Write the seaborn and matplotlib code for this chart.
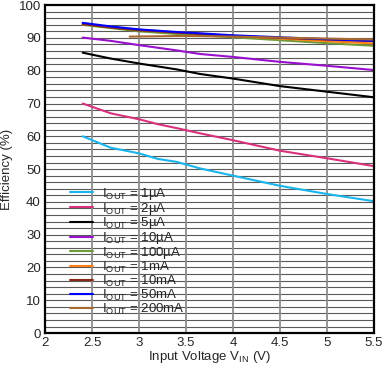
import numpy as np
import pandas as pd
import matplotlib
matplotlib.use('Agg')
import matplotlib.pyplot as plt
import seaborn as sns

# Efficiency vs input voltage, one curve per output current
vin = [2.4, 2.7, 3.0, 3.2, 3.4, 3.65, 4.0, 4.5, 5.0, 5.5]
eff_1uA = [60.0, 56.5, 54.8, 53.1, 52.2, 50.2, 48.0, 44.9, 42.4, 40.2]
eff_2uA = [70.0, 67.0, 65.2, 63.7, 62.5, 60.9, 58.8, 55.6, 53.3, 50.9]
eff_5uA = [85.5, 83.7, 82.2, 81.3, 80.4, 79.0, 77.6, 75.3, 73.6, 71.9]
eff_10uA = [90.1, 89.1, 87.8, 87.0, 86.2, 85.1, 84.2, 82.7, 81.5, 80.2]
eff_100uA = [94.0, 93.0, 92.0, 91.6, 91.2, 90.8, 90.2, 89.3, 88.4, 87.6]
eff_1mA = [94.3, 93.3, 92.5, 92.1, 91.7, 91.3, 90.6, 89.8, 89.0, 88.3]
eff_10mA = [94.2, 93.2, 92.3, 92.0, 91.6, 91.2, 90.6, 90.0, 89.5, 89.0]
eff_50mA = [94.6, 93.5, 92.6, 92.2, 91.8, 91.4, 90.8, 90.2, 89.6, 89.1]
vin_200mA = [2.9, 3.2, 3.5, 4.0, 4.5, 5.0, 5.5]
eff_200mA = [90.4, 90.5, 90.6, 90.4, 90.1, 89.8, 89.5]

labels = ['1µA', '2µA', '5µA', '10µA', '100µA', '1mA', '10mA', '50mA', '200mA']
colors = ['#19B5EC', '#D9307C', '#000000', '#9A10CC', '#6E9A3A',
          '#FF7F14', '#8E2A12', '#0000FF', '#A8682E']
series = [eff_1uA, eff_2uA, eff_5uA, eff_10uA, eff_100uA,
          eff_1mA, eff_10mA, eff_50mA]

rows = []
for lab, ys in zip(labels[:-1], series):
    for x, y in zip(vin, ys):
        rows.append((lab, x, y))
for x, y in zip(vin_200mA, eff_200mA):
    rows.append((labels[-1], x, y))
df = pd.DataFrame(rows, columns=['iout', 'vin', 'eff'])
df['label'] = df['iout'].map(lambda s: r'I$_{\mathregular{OUT}}$ = ' + s)
legend_names = [r'I$_{\mathregular{OUT}}$ = ' + s for s in labels]

sns.set_style('white')
plt.rcParams['font.family'] = ['Liberation Sans', 'DejaVu Sans']
plt.rcParams['mathtext.fontset'] = 'custom'
plt.rcParams['mathtext.rm'] = 'Liberation Sans'

fig = plt.figure(figsize=(3.82, 3.66), dpi=100)
ax = fig.add_axes([0.118, 0.090, 0.861, 0.896])

for v in np.arange(2, 100, 2):
    ax.axhline(v, color='#5a5a5a', lw=0.8, zorder=0)
for v in np.arange(2.5, 5.5, 0.5):
    ax.axvline(v, color='#8c8c8c', lw=1.3, zorder=0)

sns.lineplot(data=df, x='vin', y='eff', hue='label', hue_order=legend_names,
             palette=dict(zip(legend_names, colors)), lw=1.5, ax=ax,
             sort=True, estimator=None)

ax.set_xlim(2, 5.5)
ax.set_ylim(0, 100)
ax.set_xticks(np.arange(2, 5.51, 0.5))
ax.set_xticklabels(['2', '2.5', '3', '3.5', '4', '4.5', '5', '5.5'])
ax.set_yticks(np.arange(0, 101, 10))
ax.tick_params(length=0, labelsize=9.5, pad=3)
ax.set_xlabel(r'Input Voltage V$_{\mathregular{IN}}$ (V)', fontsize=9.5, labelpad=0)
ax.set_ylabel('Efficiency (%)', fontsize=9.5)
ax.yaxis.set_label_coords(-0.097, 0.5)
for s in ax.spines.values():
    s.set_color('black')
    s.set_linewidth(1.6)

ax.legend(loc='upper left', bbox_to_anchor=(0.076, 0.449), frameon=False,
          fontsize=9.5, borderaxespad=0, borderpad=0, labelspacing=-0.09,
          handlelength=1.75, handletextpad=0.7)

fig.savefig('out.png', dpi=100)
